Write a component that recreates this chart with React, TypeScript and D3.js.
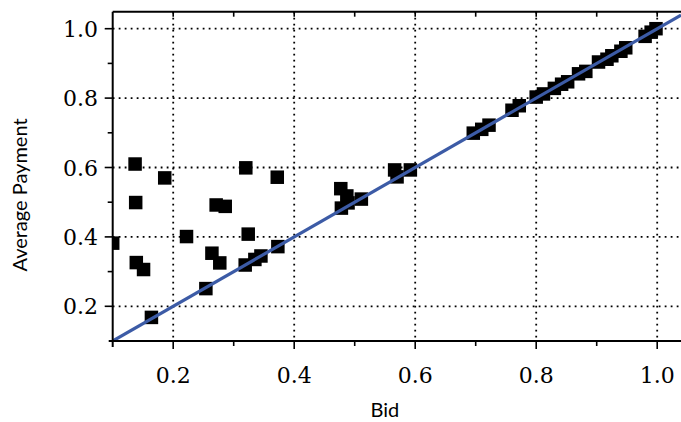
import { useMemo } from "react";
import * as d3 from "d3";

const bids = [
  0.1, 0.137, 0.138, 0.139, 0.151, 0.164, 0.186, 0.222, 0.254, 0.264, 0.277,
  0.271, 0.286, 0.32, 0.324, 0.319, 0.335, 0.345, 0.373, 0.372, 0.477, 0.487,
  0.511, 0.478, 0.489, 0.566, 0.57, 0.592, 0.696, 0.71, 0.722, 0.76, 0.772,
  0.8, 0.812, 0.83, 0.842, 0.852, 0.87, 0.882, 0.903, 0.917, 0.925, 0.94,
  0.948, 0.98, 0.99, 0.998,
];
const payments = [
  0.382, 0.61, 0.499, 0.326, 0.306, 0.168, 0.57, 0.401, 0.251, 0.353, 0.325,
  0.492, 0.488, 0.599, 0.408, 0.319, 0.335, 0.345, 0.372, 0.572, 0.539, 0.518,
  0.509, 0.483, 0.498, 0.593, 0.573, 0.593, 0.699, 0.71, 0.722, 0.765, 0.778,
  0.803, 0.812, 0.828, 0.84, 0.847, 0.87, 0.877, 0.904, 0.912, 0.922, 0.935,
  0.945, 0.978, 0.99, 1.0,
];
const xTicks = [0.2, 0.4, 0.6, 0.8, 1.0];
const xMinor = [0.3, 0.5, 0.7, 0.9];
const yTicks = [0.2, 0.4, 0.6, 0.8, 1.0];
const yMinor = [0.3, 0.5, 0.7, 0.9];

const serif = "'DejaVu Serif', serif";

const App = () => {
  const width = 681;
  const height = 422;
  const left = 112.7;
  const right = 681;
  const top = 11.7;
  const bottom = 341;

  const x = useMemo(
    () => d3.scaleLinear().domain([0.1, 1.0]).range([left, left + 0.9 * 605]),
    []
  );
  const y = useMemo(
    () => d3.scaleLinear().domain([0.1, 1.0]).range([bottom, bottom - 0.9 * 347]),
    []
  );
  const lineEnd = x.invert(right);
  const fit = d3.line<number>()
    .x((d) => x(d))
    .y((d) => y(d));
  const sq = 13.5;
  const blue = "#3c5ba6";

  return (
    <svg
      width={width}
      height={height}
      style={{ position: "absolute", left: 0, top: 0, background: "#fff" }}
    >
      <defs>
        <clipPath id="plot">
          <rect x={left} y={top} width={right - left} height={bottom - top} />
        </clipPath>
      </defs>

      {/* dotted grid */}
      {xTicks.map((t) => (
        <line
          key={"gx" + t}
          x1={x(t)}
          x2={x(t)}
          y1={top}
          y2={bottom}
          stroke="#000"
          strokeWidth={1.8}
          strokeDasharray="1.8,4.2"
        />
      ))}
      {yTicks.map((t) => (
        <line
          key={"gy" + t}
          x1={left}
          x2={right}
          y1={y(t)}
          y2={y(t)}
          stroke="#000"
          strokeWidth={1.8}
          strokeDasharray="1.8,4.2"
        />
      ))}

      <g clipPath="url(#plot)">
        {bids.map((b, i) => (
          <rect
            key={i}
            x={x(b) - sq / 2}
            y={y(payments[i]) - sq / 2}
            width={sq}
            height={sq}
            fill="#000"
          />
        ))}
        <path
          d={fit([0.1, lineEnd]) ?? ""}
          fill="none"
          stroke={blue}
          strokeWidth={3.2}
        />
      </g>

      {/* axes frame */}
      <line x1={left} x2={left} y1={top} y2={bottom + 6} stroke="#000" strokeWidth={2} />
      <line x1={left - 4} x2={right} y1={bottom} y2={bottom} stroke="#000" strokeWidth={2} />
      <line x1={left} x2={right} y1={top} y2={top} stroke="#000" strokeWidth={2} />

      {/* bottom ticks */}
      {xTicks.map((t) => (
        <line key={"bt" + t} x1={x(t)} x2={x(t)} y1={bottom} y2={bottom + 8} stroke="#000" strokeWidth={1.6} />
      ))}
      {xMinor.map((t) => (
        <line key={"bm" + t} x1={x(t)} x2={x(t)} y1={bottom} y2={bottom + 5} stroke="#000" strokeWidth={1.6} />
      ))}
      {/* top ticks (inward) */}
      {[...xTicks, ...xMinor].map((t) => (
        <line key={"tt" + t} x1={x(t)} x2={x(t)} y1={top} y2={top + 5} stroke="#000" strokeWidth={1.6} />
      ))}
      {/* left ticks */}
      {yTicks.map((t) => (
        <line key={"lt" + t} x1={left - 8} x2={left} y1={y(t)} y2={y(t)} stroke="#000" strokeWidth={1.6} />
      ))}
      {yMinor.map((t) => (
        <line key={"lm" + t} x1={left - 5} x2={left} y1={y(t)} y2={y(t)} stroke="#000" strokeWidth={1.6} />
      ))}

      {/* tick labels */}
      {xTicks.map((t) => (
        <text
          key={"xl" + t}
          x={x(t)}
          y={383}
          textAnchor="middle"
          fontFamily={serif}
          fontSize={22}
          fill="#000"
        >
          {d3.format(".1f")(t)}
        </text>
      ))}
      {yTicks.map((t) => (
        <text
          key={"yl" + t}
          x={98}
          y={y(t) + 8}
          textAnchor="end"
          fontFamily={serif}
          fontSize={22}
          fill="#000"
        >
          {d3.format(".1f")(t)}
        </text>
      ))}

      {/* axis titles */}
      <text
        x={x(0.55)}
        y={417}
        textAnchor="middle"
        fontFamily="Lato, sans-serif"
        fontSize={20}
        fill="#000"
      >
        Bid
      </text>
      <text
        transform={`translate(27, 195) rotate(-90)`}
        textAnchor="middle"
        fontFamily="Lato, sans-serif"
        fontSize={20}
        fill="#000"
      >
        Average Payment
      </text>
    </svg>
  );
};

export default App;
